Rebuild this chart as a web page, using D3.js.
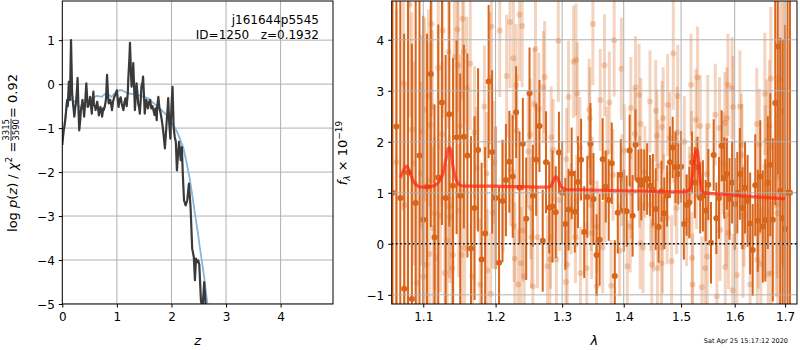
<!DOCTYPE html>
<html><head><meta charset="utf-8">
<script src="https://cdn.jsdelivr.net/npm/d3@7"></script>
<style>body{margin:0;background:#fff}svg{display:block}text{font-family:"DejaVu Sans",sans-serif}</style>
</head><body><svg id="c" width="800" height="350"></svg>
<script>
// ---------- left panel: p(z) ----------
const pzZ = [0.00,0.02,0.04,0.06,0.08,0.09,0.10,0.12,0.14,0.16,0.18,0.19,0.21,0.22,0.24,0.25,0.27,0.28,0.30,0.31,0.33,0.34,0.36,0.37,0.39,0.40,0.42,0.44,0.46,0.47,0.49,0.51,0.53,0.54,0.56,0.57,0.58,0.60,0.61,0.63,0.64,0.66,0.67,0.69,0.70,0.72,0.73,0.75,0.76,0.78,0.80,0.82,0.84,0.85,0.87,0.88,0.90,0.91,0.93,0.95,0.97,1.00,1.02,1.03,1.05,1.07,1.09,1.11,1.12,1.14,1.16,1.18,1.20,1.21,1.23,1.24,1.26,1.27,1.29,1.30,1.32,1.33,1.35,1.36,1.38,1.39,1.41,1.42,1.44,1.45,1.47,1.48,1.50,1.51,1.53,1.54,1.56,1.57,1.59,1.61,1.63,1.65,1.67,1.69,1.71,1.73,1.74,1.76,1.78,1.80,1.82,1.84,1.86,1.88,1.90,1.91,1.93,1.94,1.96,1.98,2.00,2.02,2.04,2.06,2.08,2.10,2.12,2.14,2.17,2.19,2.21,2.23,2.26,2.29,2.32,2.35,2.38,2.41,2.43,2.45,2.47,2.49,2.51,2.54,2.57,2.60,2.63,2.66];
const pzLog = [-1.38,-1.10,-0.95,-0.75,-0.45,-0.36,-0.50,0.05,-0.36,1.00,-0.20,-0.36,-0.60,-0.74,-0.50,-0.44,-0.10,0.14,-0.70,-1.05,-0.80,-0.59,-0.45,-0.36,-0.60,-0.74,-0.40,0.02,-0.40,-0.52,-0.45,-0.29,-0.55,-0.67,-0.30,-0.17,-0.48,-0.50,-0.59,-0.45,-0.40,-0.60,-0.71,-0.55,-0.52,-0.66,-0.74,-0.55,-0.59,-0.50,-0.35,0.21,-0.30,-0.44,-0.40,-0.36,-0.50,-0.59,-0.40,-0.30,-0.25,-0.14,-0.40,-0.52,-0.35,-0.30,-0.45,-0.55,-0.59,-0.40,-0.32,-0.50,-0.20,0.14,0.60,0.94,0.20,-0.06,0.20,0.48,-0.20,-0.59,-0.20,0.02,-0.25,-0.44,-0.55,-0.67,-0.30,-0.06,0.05,0.17,-0.35,-0.67,-0.45,-0.36,-0.50,-0.55,-0.40,-0.36,-0.55,-0.50,-0.59,-0.70,-0.55,-0.82,-0.50,-0.29,-0.55,-0.65,-0.80,-0.97,-1.20,-1.46,-1.10,-0.89,-0.55,-0.32,-0.90,-1.24,-0.50,-0.06,-0.97,-1.20,-1.31,-1.96,-1.60,-1.31,-1.73,-1.43,-2.10,-2.64,-2.76,-2.64,-2.26,-2.79,-3.74,-3.93,-4.46,-3.97,-4.05,-4.01,-4.10,-4.92,-5.10,-4.50,-5.10,-5.20];
const priorZ = [0.00,0.02,0.05,0.08,0.11,0.14,0.18,0.23,0.28,0.32,0.37,0.42,0.48,0.54,0.58,0.63,0.68,0.72,0.77,0.81,0.86,0.90,0.95,1.00,1.05,1.09,1.15,1.21,1.27,1.33,1.39,1.45,1.52,1.58,1.64,1.70,1.76,1.82,1.89,1.96,2.02,2.09,2.15,2.22,2.28,2.34,2.39,2.43,2.48,2.52,2.56,2.60,2.63,2.66,2.70];
const priorLog = [-1.30,-1.16,-0.80,-0.52,-0.40,-0.34,-0.35,-0.40,-0.48,-0.53,-0.55,-0.53,-0.45,-0.36,-0.30,-0.27,-0.28,-0.29,-0.24,-0.21,-0.25,-0.29,-0.22,-0.17,-0.14,-0.14,-0.18,-0.21,-0.22,-0.23,-0.25,-0.27,-0.30,-0.33,-0.40,-0.46,-0.52,-0.59,-0.68,-0.78,-0.90,-1.05,-1.22,-1.46,-1.80,-2.19,-2.60,-2.94,-3.35,-3.71,-4.05,-4.39,-4.70,-5.00,-5.30];
const zTicks = [0,1,2,3,4];
const logpTicks = [-5,-4,-3,-2,-1,0,1];

// ---------- right panel: spectrum ----------
const darkLam = [1.060,1.065,1.070,1.075,1.080,1.085,1.090,1.095,1.100,1.105,1.110,1.115,1.120,1.125,1.130,1.135,1.140,1.145,1.150,1.155,1.160,1.165,1.170,1.175,1.180,1.185,1.190,1.195,1.200,1.205,1.210,1.215,1.220,1.225,1.230,1.235,1.240,1.245,1.250,1.255,1.260,1.265,1.270,1.275,1.280,1.285,1.290,1.295,1.300,1.305,1.310,1.315,1.320,1.325,1.330,1.335,1.340,1.345,1.350,1.355,1.360,1.365,1.370,1.375,1.380,1.385,1.390,1.395,1.400,1.405,1.410,1.415,1.420,1.425,1.430,1.435,1.440,1.445,1.450,1.455,1.460,1.465,1.470,1.475,1.480,1.485,1.490,1.495,1.500,1.505,1.510,1.515,1.520,1.525,1.530,1.535,1.540,1.545,1.550,1.555,1.560,1.565,1.570,1.575,1.580,1.585,1.590,1.595,1.600,1.605,1.610,1.615,1.620,1.625,1.630,1.635,1.640,1.645,1.650,1.655,1.660,1.665,1.670,1.675,1.680,1.685,1.690,1.695,1.700,1.705,1.710];
const darkFlux = [1.00,2.30,0.90,-0.88,1.40,-1.08,0.80,1.73,0.47,1.12,3.33,0.13,1.30,2.77,0.90,2.54,1.14,2.09,0.94,2.10,1.73,-0.09,0.70,1.84,-0.31,0.20,3.18,1.80,0.90,-0.37,0.84,1.25,1.61,1.32,2.58,1.10,1.96,0.49,2.95,0.94,1.65,2.31,0.06,1.60,0.71,0.73,0.62,1.79,1.00,0.39,0.67,1.38,0.63,1.21,1.65,0.23,0.92,1.96,0.88,-0.22,0.08,1.66,1.12,0.86,1.58,-0.63,0.61,1.35,0.65,0.64,1.83,0.55,1.94,1.25,1.16,1.25,1.27,1.14,1.06,0.68,0.33,1.03,0.60,0.94,1.60,1.89,1.50,1.37,1.51,0.39,0.76,0.81,1.60,1.20,1.50,0.90,0.94,0.65,1.16,0.02,1.74,0.50,0.90,1.92,1.29,1.37,0.88,1.20,0.78,1.00,1.37,0.70,1.10,0.84,0.40,-0.12,1.15,0.45,1.32,0.34,0.46,1.20,1.55,0.47,2.76,3.87,1.04,0.50,0.29,1.00,1.00];
const darkErr = [8,6,6,5,6,5,4,3.5,4,3,3,2.6,3,2.4,2.8,2.2,2.5,1.9,2.4,1.8,2.0,2.2,1.8,1.6,1.9,1.7,1.5,1.6,1.4,1.5,1.2,1.1,1.0,1.2,0.9,1.1,0.9,1.2,0.9,1.0,1.1,0.9,1.0,1.0,0.9,1.1,0.9,0.8,1.0,0.9,0.8,0.9,0.8,0.9,0.8,0.9,0.8,0.8,0.9,0.8,0.9,0.8,0.7,0.8,0.8,0.7,0.8,0.7,0.8,0.7,0.7,0.8,0.7,0.6,0.7,0.6,0.7,0.6,0.7,0.8,0.7,0.6,0.7,0.6,0.7,0.6,0.7,0.6,0.7,0.7,0.6,0.7,0.6,0.7,0.6,0.7,0.7,0.6,0.7,0.8,0.7,0.7,0.8,0.7,0.8,0.7,0.8,0.8,0.9,0.8,0.9,0.8,0.9,0.9,1.0,0.9,1.0,1.0,1.1,1.1,1.2,1.3,1.4,1.6,2.0,2.5,3,3.5,4,8,8];

const lightLam = [1.065,1.074,1.076,1.082,1.085,1.087,1.091,1.097,1.098,1.100,1.102,1.104,1.107,1.108,1.109,1.111,1.112,1.113,1.115,1.117,1.120,1.123,1.125,1.126,1.129,1.132,1.134,1.135,1.136,1.139,1.140,1.142,1.146,1.147,1.148,1.150,1.152,1.153,1.155,1.156,1.159,1.164,1.167,1.170,1.173,1.178,1.184,1.187,1.188,1.192,1.193,1.194,1.196,1.198,1.206,1.211,1.216,1.221,1.222,1.226,1.227,1.228,1.230,1.231,1.233,1.235,1.237,1.239,1.240,1.242,1.248,1.251,1.252,1.253,1.255,1.257,1.259,1.262,1.264,1.271,1.273,1.277,1.281,1.282,1.283,1.286,1.291,1.294,1.296,1.306,1.307,1.308,1.310,1.314,1.318,1.321,1.322,1.323,1.324,1.328,1.329,1.339,1.343,1.344,1.345,1.346,1.347,1.348,1.349,1.355,1.356,1.361,1.365,1.368,1.369,1.372,1.376,1.379,1.382,1.384,1.393,1.396,1.397,1.401,1.406,1.411,1.412,1.413,1.419,1.420,1.426,1.427,1.428,1.429,1.433,1.436,1.445,1.446,1.448,1.451,1.455,1.457,1.458,1.459,1.465,1.466,1.467,1.468,1.469,1.475,1.476,1.480,1.483,1.486,1.489,1.492,1.493,1.494,1.506,1.510,1.515,1.518,1.519,1.520,1.521,1.527,1.528,1.530,1.535,1.538,1.544,1.547,1.548,1.549,1.563,1.566,1.571,1.572,1.578,1.581,1.582,1.584,1.585,1.587,1.588,1.595,1.596,1.597,1.604,1.610,1.613,1.614,1.616,1.618,1.630,1.643,1.644,1.646,1.648,1.651,1.659,1.660,1.663,1.666,1.668,1.671,1.672,1.682,1.684,1.685,1.689,1.694,1.698];
const lightFlux = [1.6,3.15,0.76,4.69,2.24,1.58,-0.77,1.38,2.20,-0.64,2.63,-0.41,2.90,-0.20,2.33,4.31,2.69,0.31,0.60,-0.28,3.45,0.55,2.15,4.18,-0.57,0.06,3.76,0.73,0.53,-0.48,-0.22,3.66,4.20,3.50,0.65,2.31,-0.22,4.41,3.77,-0.08,3.05,3.53,-0.64,2.18,1.48,-0.80,2.69,1.38,-0.52,3.25,-0.98,4.26,0.61,1.60,4.18,0.93,3.29,4.35,1.45,3.64,0.35,-0.29,3.11,2.22,-0.80,4.49,-0.38,4.27,0.26,-0.64,1.81,2.14,0.70,0.13,-0.83,2.74,3.82,0.13,2.65,3.07,3.27,-0.44,-0.31,0.12,2.09,1.84,-0.31,3.98,0.86,-0.75,1.66,-0.41,2.88,0.69,3.57,0.13,3.61,0.84,2.95,1.88,-0.57,-0.48,2.63,2.46,1.71,0.76,0.21,1.20,4.31,-0.83,0.34,2.82,-0.07,3.50,0.93,1.79,2.77,-0.82,1.35,3.99,-0.13,3.43,1.25,1.83,-0.44,0.34,2.66,1.00,2.16,3.07,2.92,1.22,0.01,2.35,-0.07,1.41,2.79,0.76,-0.41,0.36,2.61,2.12,-0.48,1.53,-0.38,2.29,-0.07,2.46,0.86,0.50,2.72,2.07,-0.34,3.73,1.25,0.70,2.18,2.90,2.00,0.46,1.01,3.12,1.71,-0.28,-0.80,2.43,1.19,3.26,2.31,-0.85,-0.48,1.37,-0.25,2.31,2.53,-1.03,2.27,0.27,1.58,2.37,-0.46,0.57,2.46,3.12,0.21,3.05,-0.91,2.68,-0.61,2.69,1.94,1.74,-0.06,0.55,-0.80,2.35,-0.31,0.22,1.94,-0.39,2.94,1.52,2.02,-0.59,2.31,3.24,-0.57,0.76,1.32,0.60,3.23,2.6,3.0];
const lightErr = [3.0,2.5,2.4,2.2,2.3,2.0,2.0,1.8,1.9,1.7,1.8,1.6,1.7,1.5,1.6,1.8,1.5,1.6,1.5,1.4,1.6,1.5,1.4,1.7,1.4,1.5,1.5,1.4,1.3,1.4,1.3,1.5,1.6,1.4,1.3,1.4,1.3,1.6,1.4,1.3,1.4,1.3,1.3,1.3,1.2,1.3,1.2,1.2,1.2,1.3,1.2,1.3,1.1,1.2,1.3,1.1,1.2,1.3,1.1,1.2,1.1,1.1,1.2,1.1,1.1,1.3,1.1,1.2,1.0,1.1,1.1,1.1,1.0,1.0,1.1,1.1,1.2,1.0,1.1,1.1,1.1,1.0,1.0,1.0,1.0,1.0,1.0,1.2,1.0,1.0,1.0,1.0,1.1,0.9,1.1,0.9,1.1,0.9,1.0,1.0,0.9,0.9,1.0,1.0,0.9,0.9,0.9,0.9,1.2,0.9,0.9,1.0,0.9,1.0,0.9,0.9,1.0,0.9,0.9,1.1,0.9,1.0,0.9,0.9,0.9,0.9,1.0,0.9,0.9,1.0,1.0,0.9,0.9,0.9,0.9,0.9,1.0,0.9,0.9,0.9,1.0,0.9,0.9,0.9,0.9,0.9,0.9,1.0,0.9,0.9,1.0,0.9,0.9,1.1,0.9,0.9,0.9,1.0,0.9,0.9,0.9,1.0,0.9,0.9,1.0,1.0,0.9,1.0,1.0,1.0,1.0,0.9,1.0,1.0,1.0,1.0,1.0,1.0,1.0,1.0,1.0,1.0,1.0,1.0,1.1,1.0,1.1,1.0,1.0,1.1,1.0,1.0,1.0,1.0,1.1,1.1,1.1,1.1,1.1,1.1,1.2,1.2,1.2,1.3,1.3,1.4,1.4,1.8,2.0,2.2,2.5,3.0,3.5];

const modelLam = [1.070,1.073,1.076,1.078,1.080,1.083,1.086,1.089,1.093,1.098,1.104,1.110,1.116,1.121,1.125,1.128,1.131,1.134,1.136,1.138,1.140,1.143,1.146,1.150,1.156,1.165,1.180,1.200,1.220,1.240,1.260,1.275,1.282,1.286,1.290,1.294,1.298,1.303,1.310,1.330,1.360,1.400,1.440,1.480,1.505,1.513,1.518,1.522,1.526,1.529,1.532,1.535,1.538,1.542,1.550,1.580,1.610,1.640,1.670,1.700];
const modelFlux = [1.30,1.40,1.49,1.52,1.49,1.38,1.26,1.18,1.13,1.11,1.11,1.12,1.15,1.22,1.32,1.48,1.70,1.88,1.88,1.75,1.52,1.32,1.20,1.15,1.13,1.13,1.13,1.13,1.12,1.12,1.11,1.11,1.13,1.22,1.32,1.25,1.13,1.08,1.06,1.06,1.05,1.04,1.03,1.02,1.02,1.04,1.15,1.45,1.78,1.84,1.60,1.25,1.05,1.00,0.99,0.97,0.94,0.92,0.90,0.88];
const lamTicks = [1.1,1.2,1.3,1.4,1.5,1.6,1.7];
const fluxTicks = [-1,0,1,2,3,4];

// ---------- drawing ----------
const svg = d3.select("#c");
const L = {x0:62.3, x1:333, y0:1, y1:304};
const R = {x0:391.7, x1:797, y0:1, y1:304};
const FS = "12px";
const gridC = "#b0b0b0";
const orange = "#d8651a";

const xz = d3.scaleLinear().domain([0,4.96]).range([L.x0,L.x1]);
const yz = d3.scaleLinear().domain([-5,1.89]).range([L.y1,L.y0]);
const xl = d3.scaleLog().domain([1.059,1.7245]).range([R.x0,R.x1]);
const yf = d3.scaleLinear().domain([-1.18,4.76]).range([R.y1,R.y0]);

const defs = svg.append("defs");
defs.append("clipPath").attr("id","clipL").append("rect").attr("x",L.x0).attr("y",L.y0).attr("width",L.x1-L.x0).attr("height",L.y1-L.y0);
defs.append("clipPath").attr("id","clipR").append("rect").attr("x",R.x0).attr("y",R.y0).attr("width",R.x1-R.x0).attr("height",R.y1-R.y0);

function grid(g, P, xs, xt, ys, yt){
  g.selectAll("line.gx").data(xt).join("line").attr("class","gx")
   .attr("x1",d=>xs(d)).attr("x2",d=>xs(d)).attr("y1",P.y0).attr("y2",P.y1)
   .attr("stroke",gridC).attr("stroke-width",1);
  g.selectAll("line.gy").data(yt).join("line").attr("class","gy")
   .attr("y1",d=>ys(d)).attr("y2",d=>ys(d)).attr("x1",P.x0).attr("x2",P.x1)
   .attr("stroke",gridC).attr("stroke-width",1);
}
function axes(P, xs, xt, xf, ys, yt, yf_){
  const ax = svg.append("g").attr("transform",`translate(0,${P.y1})`)
    .call(d3.axisBottom(xs).tickValues(xt).tickFormat(xf).tickSize(3.5).tickPadding(5));
  const ay = svg.append("g").attr("transform",`translate(${P.x0},0)`)
    .call(d3.axisLeft(ys).tickValues(yt).tickFormat(yf_).tickSize(3.5).tickPadding(4));
  [ax,ay].forEach(a=>{
    a.attr("font-family",null).attr("font-size",null);
    a.select(".domain").remove();
    a.selectAll("text").style("font-size",FS).attr("fill","#000");
    a.selectAll("line").attr("stroke","#000");
  });
  ay.selectAll("text").attr("dy","0.36em");
  svg.append("rect").attr("x",P.x0).attr("y",P.y0).attr("width",P.x1-P.x0).attr("height",P.y1-P.y0)
    .attr("fill","none").attr("stroke","#000").attr("stroke-width",1);
}

// Left panel
const gL = svg.append("g").attr("clip-path","url(#clipL)");
grid(gL, L, xz, zTicks, yz, logpTicks);
const lineZ = d3.line().x(d=>xz(d[0])).y(d=>yz(d[1]));
gL.append("path").datum(d3.zip(priorZ, priorLog)).attr("d",lineZ)
  .attr("fill","none").attr("stroke","#86b6dc").attr("stroke-width",1.8);
gL.append("path").datum(d3.zip(pzZ, pzLog)).attr("d",lineZ)
  .attr("fill","none").attr("stroke","#3a3a3a").attr("stroke-width",2.2).attr("stroke-linejoin","round");
axes(L, xz, zTicks, d3.format("d"), yz, logpTicks, d3.format("d"));

svg.append("text").attr("x",319).attr("y",24).attr("text-anchor","end").style("font-size",FS).text("j161644p5545");
svg.append("text").attr("x",319).attr("y",39).attr("text-anchor","end").style("font-size",FS).style("white-space","pre").text("ID=1250   z=0.1932");

// Right panel
const gR = svg.append("g").attr("clip-path","url(#clipR)");
const light = d3.zip(lightLam, lightFlux, lightErr);
const dark = d3.zip(darkLam, darkFlux, darkErr);
gR.selectAll("line.le").data(light).join("line").attr("class","le")
  .attr("x1",d=>xl(d[0])).attr("x2",d=>xl(d[0])).attr("y1",d=>yf(d[1]-d[2])).attr("y2",d=>yf(d[1]+d[2]))
  .attr("stroke",orange).attr("stroke-opacity",0.28).attr("stroke-width",3);
gR.selectAll("circle.lp").data(light).join("circle").attr("class","lp")
  .attr("cx",d=>xl(d[0])).attr("cy",d=>yf(d[1])).attr("r",3).attr("fill",orange).attr("fill-opacity",0.28);
gR.selectAll("line.de").data(dark).join("line").attr("class","de")
  .attr("x1",d=>xl(d[0])).attr("x2",d=>xl(d[0])).attr("y1",d=>yf(d[1]-d[2])).attr("y2",d=>yf(d[1]+d[2]))
  .attr("stroke",orange).attr("stroke-width",2);
gR.selectAll("circle.dp").data(dark).join("circle").attr("class","dp")
  .attr("cx",d=>xl(d[0])).attr("cy",d=>yf(d[1])).attr("r",3).attr("fill",orange);
grid(gR, R, xl, lamTicks, yf, fluxTicks);
gR.append("line").attr("x1",R.x0).attr("x2",R.x1).attr("y1",yf(0)).attr("y2",yf(0))
  .attr("stroke","#000").attr("stroke-width",1.6).attr("stroke-dasharray","1.6,2.6");
gR.append("path").datum(d3.zip(modelLam, modelFlux))
  .attr("d",d3.line().x(d=>xl(d[0])).y(d=>yf(d[1])).curve(d3.curveMonotoneX))
  .attr("fill","none").attr("stroke","#ff2a1a").attr("stroke-opacity",0.75).attr("stroke-width",3.2);
axes(R, xl, lamTicks, d3.format(".1f"), yf, fluxTicks, d3.format("d"));

// Axis labels
svg.append("text").attr("x",(L.x0+L.x1)/2).attr("y",345).attr("text-anchor","middle")
  .style("font-size","13px").style("font-style","italic").text("z");
svg.append("text").attr("x",(R.x0+R.x1)/2).attr("y",345).attr("text-anchor","middle")
  .style("font-size","13px").style("font-style","italic").text("λ");
svg.append("text").attr("x",788).attr("y",343).attr("text-anchor","end").style("font-size","6.5px").text("Sat Apr 25 15:17:12 2020");

// left y label with fraction
const gy = svg.append("g");
const t1 = gy.append("text").attr("y",5).style("font-size","13px");
t1.append("tspan").text("log ");
t1.append("tspan").style("font-style","italic").text("p");
t1.append("tspan").text("(");
t1.append("tspan").style("font-style","italic").text("z");
t1.append("tspan").text(") / ");
t1.append("tspan").style("font-style","italic").text("χ");
t1.append("tspan").attr("dy",-5).style("font-size","9px").text("2");
t1.append("tspan").attr("dy",5).text(" = ");
const w1 = t1.node().getComputedTextLength();
const num = gy.append("text").attr("y",-3).style("font-size","8.5px").attr("text-anchor","middle").text("3315");
const den = gy.append("text").attr("y",7).style("font-size","8.5px").attr("text-anchor","middle").text("3590");
const fw = Math.max(num.node().getComputedTextLength(), den.node().getComputedTextLength()) + 2;
num.attr("x", w1 + fw/2); den.attr("x", w1 + fw/2);
gy.append("line").attr("x1",w1+0.5).attr("x2",w1+fw-0.5).attr("y1",-1).attr("y2",-1).attr("stroke","#000").attr("stroke-width",0.8);
const t3 = gy.append("text").attr("x",w1+fw).attr("y",5).style("font-size","13px").text(" = 0.92");
const W = w1 + fw + t3.node().getComputedTextLength();
gy.attr("transform",`translate(12,153) rotate(-90) translate(${-W/2},0)`);

// right y label
const t4 = svg.append("text").attr("transform","translate(343,153) rotate(-90)").attr("y",4)
  .attr("text-anchor","middle").style("font-size","13px");
t4.append("tspan").style("font-style","italic").text("f");
t4.append("tspan").attr("dy",3).style("font-size","9px").style("font-style","italic").text("λ");
t4.append("tspan").attr("dy",-3).text(" × 10");
t4.append("tspan").attr("dy",-5).style("font-size","9px").text("−19");
</script></body></html>
